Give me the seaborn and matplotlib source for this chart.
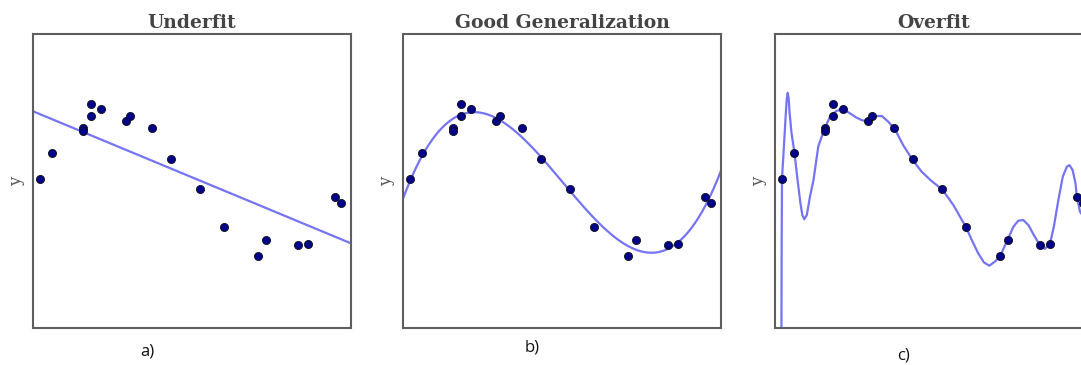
import numpy as np
import pandas as pd
import matplotlib
matplotlib.use("Agg")
import matplotlib.pyplot as plt
import seaborn as sns

# Data points (same sample shown in all three panels), axis units 0..1
x_pts = [0.022, 0.060, 0.157, 0.157, 0.182, 0.182, 0.214, 0.292, 0.305, 0.374,
         0.434, 0.525, 0.601, 0.708, 0.733, 0.833, 0.865, 0.950, 0.969]
y_pts = [0.507, 0.595, 0.680, 0.670, 0.762, 0.721, 0.745, 0.704, 0.721, 0.680,
         0.575, 0.473, 0.344, 0.245, 0.299, 0.282, 0.286, 0.446, 0.425]

# Overfit curve
over_x = [0.020, 0.021, 0.022, 0.028, 0.034, 0.037, 0.040, 0.043, 0.046, 0.052,
          0.061, 0.071, 0.080, 0.086, 0.092, 0.100, 0.110, 0.121, 0.136, 0.155,
          0.173, 0.194, 0.215, 0.236, 0.257, 0.275, 0.288, 0.309, 0.336, 0.356,
          0.377, 0.403, 0.433, 0.461, 0.490, 0.527, 0.561, 0.601, 0.619, 0.639,
          0.657, 0.674, 0.692, 0.708, 0.731, 0.750, 0.765, 0.781, 0.797, 0.814,
          0.831, 0.849, 0.865, 0.877, 0.891, 0.905, 0.918, 0.926, 0.936, 0.945,
          0.949, 0.959, 0.975]
over_y = [-0.10, 0.300, 0.507, 0.617, 0.730, 0.781, 0.800, 0.781, 0.730, 0.662,
          0.598, 0.503, 0.424, 0.384, 0.370, 0.384, 0.447, 0.503, 0.617, 0.676,
          0.719, 0.739, 0.744, 0.730, 0.715, 0.706, 0.705, 0.721, 0.721, 0.702,
          0.676, 0.622, 0.571, 0.532, 0.502, 0.470, 0.418, 0.342, 0.299, 0.254,
          0.223, 0.212, 0.226, 0.245, 0.299, 0.345, 0.365, 0.367, 0.350, 0.316,
          0.285, 0.269, 0.288, 0.345, 0.435, 0.515, 0.549, 0.554, 0.537, 0.492,
          0.447, 0.396, 0.370]

titles = ["Underfit", "Good Generalization", "Overfit"]
panel_labels = ["a)", "b)", "c)"]

pts = pd.DataFrame({"x": x_pts, "y": y_pts})
curve = pd.DataFrame({"x": over_x, "y": over_y})

sns.set_style("white")

line_color = "#7474f4"
dot_color = "#00008b"

fig = plt.figure(figsize=(10.81, 3.65), dpi=100)
W, H = 1081, 365
lefts = [33, 403, 775]
axes = [fig.add_axes([l / W, 37 / H, 318 / W, 294 / H]) for l in lefts]

for i, ax in enumerate(axes):
    ax.set_xlim(0, 1)
    ax.set_ylim(0, 1)
    if i == 0:
        sns.regplot(data=pts, x="x", y="y", order=1, ci=None, scatter=False,
                    truncate=False, ax=ax, line_kws={"color": line_color, "lw": 1.6})
    elif i == 1:
        sns.regplot(data=pts, x="x", y="y", order=3, ci=None, scatter=False,
                    truncate=False, ax=ax, line_kws={"color": line_color, "lw": 1.6})
    else:
        sns.lineplot(data=curve, x="x", y="y", sort=False, estimator=None,
                     color=line_color, lw=1.6, ax=ax)
    sns.scatterplot(data=pts, x="x", y="y", color=dot_color, s=34,
                    edgecolor="#111111", linewidth=0.6, ax=ax, zorder=3)
    ax.set_xlim(0, 1)
    ax.set_ylim(0, 1)
    ax.set_xticks([])
    ax.set_yticks([])
    ax.set_xlabel("")
    ax.set_ylabel("y", family="DejaVu Serif", fontsize=12, color="#555555",
                  labelpad=6)
    ax.set_title(titles[i], family="DejaVu Serif", fontsize=13.5,
                 fontweight="bold", color="#444444", pad=4)
    for sp in ax.spines.values():
        sp.set_color("#5e5e5e")
        sp.set_linewidth(1.5)

fig.text(147 / W, 1 - 352 / H, panel_labels[0], ha="center", va="center",
         family="Open Sans", fontsize=12, color="#111111")
fig.text(532 / W, 1 - 348 / H, panel_labels[1], ha="center", va="center",
         family="Open Sans", fontsize=12, color="#111111")
fig.text(904 / W, 1 - 355 / H, panel_labels[2], ha="center", va="center",
         family="Open Sans", fontsize=12, color="#111111")

fig.savefig("out.png", dpi=100, facecolor="white")
